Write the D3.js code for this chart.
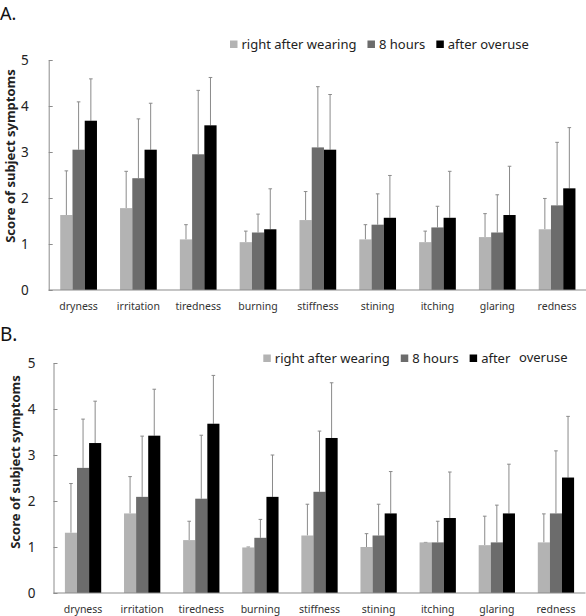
<!DOCTYPE html>
<html>
<head>
<meta charset="utf-8">
<script src="https://cdn.jsdelivr.net/npm/d3@7"></script>
<style>
  body { margin: 0; background: #fff; }
  svg { display: block; font-family: "Noto Sans", "Open Sans", sans-serif; }
</style>
</head>
<body>
<svg id="chart" width="586" height="616"></svg>
<script>
// symptoms on the x axis
const symptoms = ['dryness', 'irritation', 'tiredness', 'burning', 'stiffness', 'stining', 'itching', 'glaring', 'redness'];
const seriesNames = ['right after wearing', '8 hours', 'after overuse'];
const yTicks = [0, 1, 2, 3, 4, 5];

// panel A: means and upper error (SD)
const aRight = [1.63, 1.78, 1.10, 1.04, 1.52, 1.10, 1.04, 1.15, 1.32];
const aRightSd = [0.96, 0.80, 0.32, 0.24, 0.62, 0.32, 0.24, 0.51, 0.67];
const a8h = [3.05, 2.43, 2.95, 1.25, 3.10, 1.42, 1.36, 1.25, 1.84];
const a8hSd = [1.04, 1.29, 1.39, 0.40, 1.32, 0.67, 0.46, 0.82, 1.37];
const aOver = [3.68, 3.05, 3.58, 1.32, 3.05, 1.57, 1.57, 1.63, 2.21];
const aOverSd = [0.91, 1.01, 1.04, 0.88, 1.20, 0.92, 1.01, 1.06, 1.32];

// panel B
const bRight = [1.31, 1.73, 1.15, 0.99, 1.25, 1.00, 1.10, 1.04, 1.10];
const bRightSd = [1.07, 0.80, 0.41, 0.01, 0.68, 0.29, 0.00, 0.63, 0.62];
const b8h = [2.72, 2.09, 2.05, 1.20, 2.20, 1.25, 1.10, 1.10, 1.73];
const b8hSd = [1.06, 1.32, 1.38, 0.40, 1.32, 0.68, 0.46, 0.81, 1.36];
const bOver = [3.26, 3.42, 3.68, 2.09, 3.37, 1.73, 1.63, 1.73, 2.51];
const bOverSd = [0.91, 1.01, 1.05, 0.91, 1.20, 0.91, 1.00, 1.07, 1.33];

const colors = ['#b3b3b3', '#6c6c6c', '#000000'];
const axisColor = '#8c8c8c';

const svg = d3.select('#chart');

function drawPanel(opts) {
    let g = svg.append('g');

    let x = d3.scaleBand()
        .domain(symptoms)
        .range([opts.left, opts.right])
        .paddingInner(0.386)
        .paddingOuter(0.193);

    let xs = d3.scaleBand()
        .domain(seriesNames)
        .range([0, x.bandwidth()]);

    let y = d3.scaleLinear()
        .domain([0, 5])
        .range([opts.bottom, opts.top]);

    let rows = [];
    opts.means.forEach(function(series, si) {
        series.forEach(function(v, i) {
            rows.push({cat: symptoms[i], series: seriesNames[si], si: si, value: v, sd: opts.sds[si][i]});
        });
    });

    let bars = g.append('g').selectAll('g')
        .data(rows)
        .enter()
        .append('g')
        .attr('transform', function(d) { return 'translate(' + (x(d.cat) + xs(d.series)) + ',0)'; });

    // error bars first so the bar covers the lower part
    bars.append('line')
        .attr('x1', xs.bandwidth() / 2)
        .attr('x2', xs.bandwidth() / 2)
        .attr('y1', function(d) { return y(d.value); })
        .attr('y2', function(d) { return y(d.value + d.sd); })
        .attr('stroke', '#8a8a8a')
        .attr('stroke-width', 1);

    bars.append('line')
        .attr('x1', xs.bandwidth() / 2 - 1.8)
        .attr('x2', xs.bandwidth() / 2 + 1.8)
        .attr('y1', function(d) { return y(d.value + d.sd); })
        .attr('y2', function(d) { return y(d.value + d.sd); })
        .attr('stroke', '#8a8a8a')
        .attr('stroke-width', 1);

    bars.append('rect')
        .attr('x', 0)
        .attr('width', xs.bandwidth())
        .attr('y', function(d) { return y(d.value); })
        .attr('height', function(d) { return y(0) - y(d.value); })
        .attr('fill', function(d) { return colors[d.si]; });

    // y axis with inward ticks
    let yAxis = g.append('g')
        .attr('transform', 'translate(' + opts.left + ',0)')
        .call(d3.axisLeft(y)
            .tickValues(yTicks)
            .tickFormat(d3.format('d'))
            .tickSizeInner(-4)
            .tickSizeOuter(0)
            .tickPadding(opts.tickPad));
    yAxis.select('.domain').attr('stroke', axisColor);
    yAxis.selectAll('.tick line').attr('stroke', axisColor);
    yAxis.selectAll('.tick text')
        .attr('font-size', 13.5)
        .attr('font-family', '"Noto Sans", sans-serif')
        .attr('fill', '#222');

    // baseline
    g.append('line')
        .attr('x1', opts.left)
        .attr('x2', opts.right)
        .attr('y1', y(0))
        .attr('y2', y(0))
        .attr('stroke', axisColor)
        .attr('stroke-width', 1.2);

    g.append('g').selectAll('text')
        .data(symptoms)
        .enter()
        .append('text')
        .attr('x', function(d) { return x(d) + x.bandwidth() / 2; })
        .attr('y', y(0) + 20)
        .attr('text-anchor', 'middle')
        .attr('font-size', 10.5)
        .attr('fill', '#333')
        .text(function(d) { return d; });

    g.append('text')
        .attr('transform', 'translate(' + opts.titleX + ',' + opts.titleY + ') rotate(-90)')
        .attr('text-anchor', 'middle')
        .attr('font-size', 13)
        .attr('font-weight', 'bold')
        .attr('fill', '#222')
        .text('Score of subject symptoms');

    g.append('text')
        .attr('x', 0)
        .attr('y', opts.letterY)
        .attr('font-size', opts.letterSize)
        .attr('fill', '#111')
        .text(opts.letter);

    // legend laid out left to right
    let lx = opts.legendX;
    seriesNames.forEach(function(name, i) {
        g.append('rect')
            .attr('x', lx)
            .attr('y', opts.legendY - 8.5)
            .attr('width', 7.5)
            .attr('height', 7.5)
            .attr('fill', colors[i]);
        let t = g.append('text')
            .attr('x', lx + 11.5)
            .attr('y', opts.legendY)
            .attr('font-size', 13)
            .attr('fill', '#222');
        if (opts.splitLast && i === 2) {
            t.append('tspan').text('after');
            t.append('tspan').attr('dx', 9).attr('dy', -1.5).text('overuse');
        } else {
            t.text(name);
        }
        lx += 11.5 + t.node().getComputedTextLength() + 11;
    });
}

drawPanel({
    letter: 'A.', letterY: 20, letterSize: 18,
    left: 48.7, right: 587, top: 60, bottom: 290, tickPad: 20,
    means: [aRight, a8h, aOver], sds: [aRightSd, a8hSd, aOverSd],
    titleX: 15, titleY: 156,
    legendX: 230, legendY: 49, splitLast: false
});

drawPanel({
    letter: 'B.', letterY: 340.5, letterSize: 19,
    left: 53.5, right: 585.5, top: 363, bottom: 593, tickPad: 18,
    means: [bRight, b8h, bOver], sds: [bRightSd, b8hSd, bOverSd],
    titleX: 19.5, titleY: 462,
    legendX: 263.3, legendY: 363, splitLast: true
});
</script>
</body>
</html>
